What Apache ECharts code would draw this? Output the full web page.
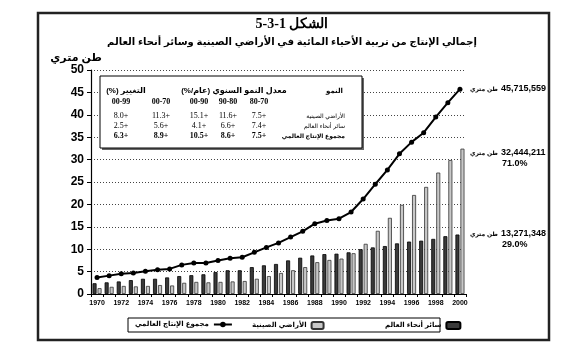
<!DOCTYPE html>
<html><head><meta charset="utf-8">
<script src="https://cdn.jsdelivr.net/npm/echarts@6/dist/echarts.min.js"></script>
<style>html,body{margin:0;padding:0;background:#fff}#c{width:564px;height:356px}</style>
</head><body><div id="c"></div>
<script>
var years = ['1970','1971','1972','1973','1974','1975','1976','1977','1978','1979','1980','1981','1982','1983','1984','1985','1986','1987','1988','1989','1990','1991','1992','1993','1994','1995','1996','1997','1998','1999','2000'];
var restWorld = [2.4,2.6,2.8,3.1,3.4,3.4,3.7,4.0,4.2,4.4,4.9,5.3,5.3,6.0,6.4,6.7,7.5,8.1,8.6,8.9,9.0,9.3,10.0,10.4,10.7,11.3,11.7,11.9,12.3,12.9,13.27];
var china = [1.3,1.6,1.8,1.7,1.8,2.0,1.9,2.5,2.7,2.6,2.7,2.8,2.9,3.4,4.0,4.7,5.3,6.0,7.1,7.6,7.9,9.1,11.2,14.1,17.0,19.9,22.1,23.9,27.1,29.9,32.44];
var worldTotal = [3.7,4.1,4.5,4.7,5.1,5.4,5.6,6.5,6.9,6.9,7.5,8.0,8.2,9.3,10.4,11.4,12.7,14.0,15.7,16.4,16.8,18.3,21.2,24.5,27.7,31.3,33.9,36.0,39.5,42.7,45.72];
var seriesNames = ['سائر أنحاء العالم','الأراضي الصينية','مجموع الإنتاج العالمي'];
var periods = ['00-99','00-70','00-90','90-80','80-70'];
var rowLabels = ['الأراضي الصينية','سائر أنحاء العالم','مجموع الإنتاج العالمي'];
var rowChina = ['8.0+','11.3+','15.1+','11.6+','7.5+'];
var rowRest = ['2.5+','5.6+','4.1+','6.6+','7.4+'];
var rowTotal = ['6.3+','8.9+','10.5+','8.6+','7.5+'];
var endLabels = [['45,715,559',''],['32,444,211','71.0%'],['13,271,348','29.0%']];
var titleNum = '5-3-1 الشكل';
var titleMain = 'إجمالي الإنتاج من تربية الأحياء المائية في الأراضي الصينية وسائر أنحاء العالم';
var unitName = 'طن متري';

var F = 'Liberation Sans, DejaVu Sans, sans-serif';
var FS = 'Liberation Serif, DejaVu Serif, serif';
var chart = echarts.init(document.getElementById('c'), null, {renderer:'canvas'});

var colX = [121,161,199,228,259];
var rowY = [116,126,136];
var g = [];
g.push({type:'rect', shape:{x:38,y:13,width:511,height:327}, style:{fill:'none', stroke:'#222', lineWidth:2.5}, z:1});
g.push({type:'text', x:292, y:24, style:{text:titleNum, font:'bold 14px '+FS, fill:'#000', textAlign:'center', textVerticalAlign:'middle'}});
g.push({type:'text', x:292, y:42, style:{text:titleMain, font:'bold 10px '+F, fill:'#000', textAlign:'center', textVerticalAlign:'middle'}});
g.push({type:'text', x:76, y:58, style:{text:unitName, font:'bold 11px '+F, fill:'#000', textAlign:'center', textVerticalAlign:'middle'}});
g.push({type:'rect', shape:{x:102,y:78,width:262,height:72}, style:{fill:'#666'}, z:10});
g.push({type:'rect', shape:{x:100,y:76,width:262,height:72}, style:{fill:'#fff', stroke:'#000', lineWidth:1}, z:11});
g.push({type:'text', x:126, y:91, z:12, style:{text:'(%) التغيير', font:'bold 8px '+F, fill:'#000', textAlign:'center', textVerticalAlign:'middle'}});
g.push({type:'text', x:234, y:91, z:12, style:{text:'(%/عام)\u200E \u200Eمعدل النمو السنوي', font:'bold 8px '+F, fill:'#000', textAlign:'center', textVerticalAlign:'middle'}});
g.push({type:'text', x:343, y:91, z:12, style:{text:'النمو', font:'bold 7px '+F, fill:'#000', textAlign:'right', textVerticalAlign:'middle'}});
periods.forEach(function(p,i){
  g.push({type:'text', x:colX[i], y:102, z:12, style:{text:p, font:'bold 8px '+FS, fill:'#000', textAlign:'center', textVerticalAlign:'middle'}});
});
[rowChina,rowRest,rowTotal].forEach(function(row,r){
  row.forEach(function(v,i){
    g.push({type:'text', x:colX[i], y:rowY[r], z:12, style:{text:v, font:(r===2?'bold ':'')+'8px '+FS, fill:'#000', textAlign:'center', textVerticalAlign:'middle'}});
  });
  g.push({type:'text', x:345, y:rowY[r], z:12, style:{text:rowLabels[r], font:(r===2?'bold ':'')+'6px '+F, fill:'#000', textAlign:'right', textVerticalAlign:'middle'}});
});
var endY = [89,153,234];
endLabels.forEach(function(e,i){
  g.push({type:'text', x:498, y:endY[i], style:{text:unitName, font:'bold 6px '+F, fill:'#000', textAlign:'right', textVerticalAlign:'middle'}});
  g.push({type:'text', x:501, y:endY[i], style:{text:e[0], font:'bold 9px '+F, fill:'#000', textAlign:'left', textVerticalAlign:'middle'}});
  if (e[1]) g.push({type:'text', x:502, y:endY[i]+11, style:{text:e[1], font:'bold 9px '+F, fill:'#000', textAlign:'left', textVerticalAlign:'middle'}});
});
g.push({type:'rect', shape:{x:128,y:318,width:312,height:14}, style:{fill:'none', stroke:'#000', lineWidth:1}});

function lg(name, left, iw){
  return {data:[name], left:left, top:321, padding:0, align:'right', itemWidth:iw, itemHeight:7, itemGap:4,
    textStyle:{fontSize:7, fontWeight:'bold', fontFamily:F, color:'#000', padding:[0,0,0,0]}};
}

chart.setOption({
  animation:false,
  grid:{left:91, right:98, top:70, bottom:62},
  legend:[lg(seriesNames[2],135,18), lg(seriesNames[1],252,12), lg(seriesNames[0],385,14)],
  xAxis:{type:'category', data:years,
    axisLine:{lineStyle:{color:'#000', width:1.2}},
    axisTick:{show:true, interval:0, length:3, lineStyle:{color:'#000'}},
    axisLabel:{interval:1, fontSize:7, fontWeight:'bold', fontFamily:F, color:'#000', margin:6}},
  yAxis:{type:'value', min:0, max:50, interval:5,
    axisLine:{show:true, lineStyle:{color:'#000', width:1.2}},
    axisTick:{show:true, length:4, lineStyle:{color:'#000'}},
    axisLabel:{fontSize:12, fontWeight:'bold', fontFamily:F, color:'#000', margin:7},
    splitLine:{show:true, lineStyle:{color:'#444', type:[1,2], width:1}}},
  series:[
    {name:seriesNames[0], type:'bar', data:restWorld, barWidth:4, barGap:'25%',
      itemStyle:{color:'#3a3a3a', borderColor:'#000', borderWidth:0.8}},
    {name:seriesNames[1], type:'bar', data:china, barWidth:4,
      itemStyle:{color:'#c8c8c8', borderColor:'#333', borderWidth:0.8}},
    {name:seriesNames[2], type:'line', data:worldTotal, symbol:'circle', symbolSize:5, z:5,
      itemStyle:{color:'#000'}, lineStyle:{color:'#000', width:2}}
  ],
  graphic:g
});
</script></body></html>
